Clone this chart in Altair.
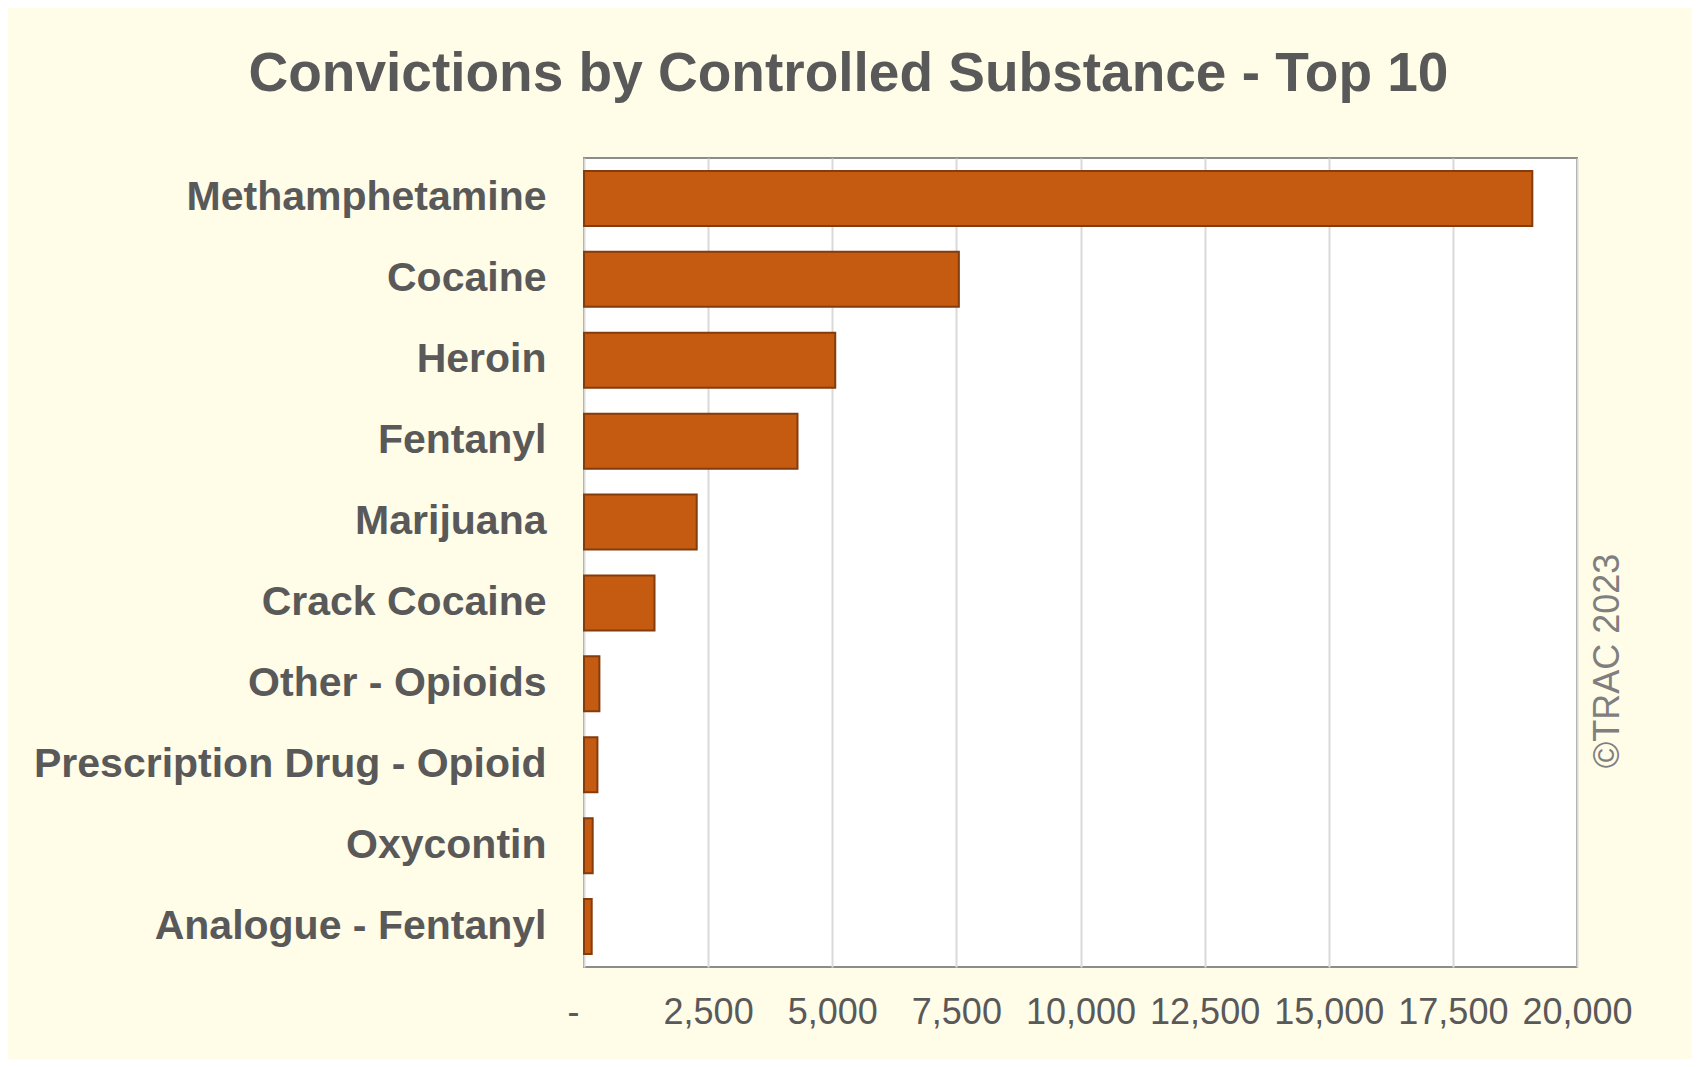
import altair as alt
import pandas as pd

substances = [
    "Methamphetamine", "Cocaine", "Heroin", "Fentanyl", "Marijuana",
    "Crack Cocaine", "Other - Opioids", "Prescription Drug - Opioid",
    "Oxycontin", "Analogue - Fentanyl",
]
convictions = [19100, 7550, 5060, 4300, 2270, 1420, 310, 270, 175, 155]
tick_values = [0, 2500, 5000, 7500, 10000, 12500, 15000, 17500, 20000]

df = pd.DataFrame({"substance": substances, "convictions": convictions})

PLOT_W, PLOT_H = 993, 809
TOTAL_W, TOTAL_H = 1684, 1051
PAD_L, PAD_T = 576, 150

bars = alt.Chart(df).mark_bar(
    color="#C55A11", stroke="#843C0C", strokeWidth=2
).encode(
    x=alt.X(
        "convictions:Q",
        scale=alt.Scale(domain=[0, 20000], nice=False),
        axis=alt.Axis(
            values=tick_values,
            labelExpr="datum.value == 0 ? '-' : format(datum.value, ',')",
            labelOffset={"condition": {"test": "datum.value == 0", "value": -11}, "value": 0},
            title=None,
            grid=True,
            gridColor="#d9d9d9",
            gridWidth=2,
            domain=False,
            ticks=False,
            labelFont="Liberation Sans",
            labelFontSize=36,
            labelColor="#595959",
            labelPadding=28,
            labelFlush=False,
            labelOverlap=False,
        ),
    ),
    y=alt.Y(
        "substance:N",
        sort=substances,
        scale=alt.Scale(paddingInner=0.32, paddingOuter=0.16),
        axis=alt.Axis(
            title=None,
            domain=False,
            ticks=False,
            labelFont="Liberation Sans",
            labelFontSize=41,
            labelFontWeight="bold",
            labelColor="#595959",
            labelPadding=38,
            labelLimit=1000,
        ),
    ),
)

copyright_text = alt.Chart(pd.DataFrame({"t": ["©TRAC 2023"]})).mark_text(
    angle=270, font="Liberation Sans", fontSize=36, color="#7f7f7f",
    align="center", baseline="middle",
).encode(
    text="t:N",
    x=alt.value(1024),
    y=alt.value(503),
)

chart = alt.layer(bars, copyright_text).properties(
    width=PLOT_W,
    height=PLOT_H,
    autosize=alt.AutoSizeParams(type="none"),
    padding={"left": PAD_L, "top": PAD_T,
             "right": TOTAL_W - PAD_L - PLOT_W, "bottom": TOTAL_H - PAD_T - PLOT_H},
    background="#FFFCE8",
    title=alt.TitleParams(
        "Convictions by Controlled Substance - Top 10",
        font="Liberation Sans",
        fontSize=55,
        fontWeight="bold",
        color="#595959",
        anchor="middle",
        dx=-232,
        offset=55,
    ),
).configure_view(
    fill="white",
    stroke="#8c8c8c",
    strokeWidth=2,
)

chart.save("out.html", embed_options={"renderer": "svg", "actions": False})
